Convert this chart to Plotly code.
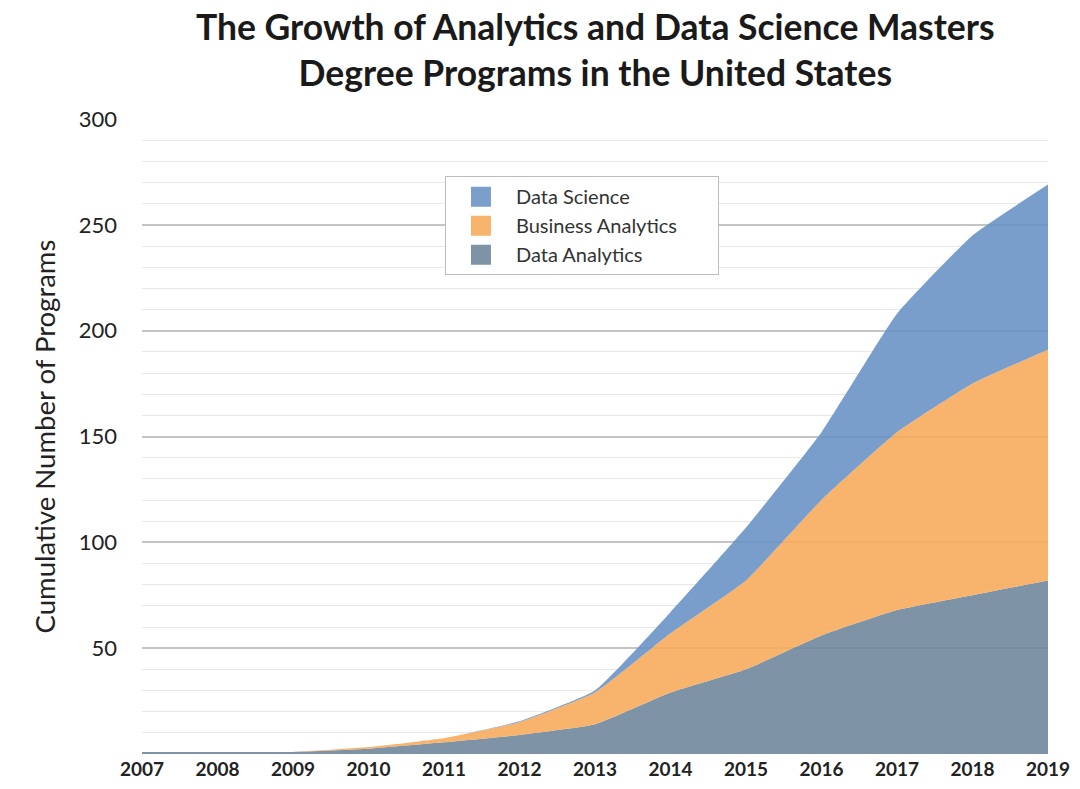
import plotly.graph_objects as go

years = [2007, 2008, 2009, 2010, 2011, 2012, 2013, 2014, 2015, 2016, 2017, 2018, 2019]
data_analytics = [1, 1, 1, 2.5, 5.5, 9, 14, 29, 40, 56, 68, 75, 82]
business_analytics = [0, 0, 0, 0.8, 2, 6, 15, 28, 42, 64, 84, 100, 109]
data_science = [0, 0, 0, 0, 0, 0.5, 1, 10, 25, 32, 56, 70, 78]

y_tickvals = [50, 100, 150, 200, 250, 300]

FONT = "Lato"
PAD = "\u00a0" * 7
TITLE = "<b>The Growth of Analytics and Data Science Masters<br>Degree Programs in the United States</b>"

fig = go.Figure()
series = [
    ("Data Analytics", data_analytics, "rgba(113,135,156,0.9)", "#7f93a6"),
    ("Business Analytics", business_analytics, "rgba(247,172,92,0.9)", "#f8b46c"),
    ("Data Science", data_science, "rgba(108,147,197,0.9)", "#7b9ecb"),
]
for name, vals, col, solid in series:
    fig.add_trace(go.Scatter(
        x=years, y=vals, name=name, mode="lines", stackgroup="one",
        line=dict(width=0, shape="spline", smoothing=0.4),
        fillcolor=col, showlegend=False,
    ))
# legend-only entries with square swatches
for name, vals, col, solid in series:
    fig.add_trace(go.Scatter(
        x=[None], y=[None], name=name + PAD, mode="markers",
        marker=dict(symbol="square", size=16, color=solid,
                    line=dict(color=solid, width=4)),
        showlegend=True,
    ))

fig.add_annotation(
    text=TITLE, xref="paper", yref="paper", x=0.5, y=1.1087,
    xanchor="center", yanchor="middle", showarrow=False,
    font=dict(family=FONT, size=35.5, color="#1a1a1a"),
)

fig.update_layout(
    width=1064, height=773,
    margin=dict(l=134, r=24, t=111, b=27, autoexpand=False),
    paper_bgcolor="white", plot_bgcolor="white",
    legend=dict(
        x=0.3344, y=0.91, xanchor="left", yanchor="top",
        traceorder="reversed",
        bgcolor="white", bordercolor="#bdbdbd", borderwidth=1,
        font=dict(family=FONT, size=20, color="#333333"),
        itemsizing="trace", tracegroupgap=0, itemwidth=60,
    ),
    showlegend=True,
)

fig.update_xaxes(
    range=[2007, 2019], tickmode="array", tickvals=years,
    ticktext=[f"<b>{y}</b>" for y in years],
    tickfont=dict(family=FONT, size=19, color="#222222"),
    showgrid=False, zeroline=False, showline=False, ticks="",
    ticklabelstandoff=2, automargin=False,
)
fig.update_yaxes(
    range=[0, 300], tickmode="array", tickvals=y_tickvals,
    tickfont=dict(family=FONT, size=22, color="#222222"),
    showgrid=True, gridcolor="#c4c4c4", gridwidth=1.5,
    minor=dict(dtick=10, showgrid=True, gridcolor="#e8e8e8", gridwidth=1),
    zeroline=False, showline=False, ticks="",
    ticklabelstandoff=24, automargin=False,
    title=dict(text="Cumulative Number of Programs",
               font=dict(family=FONT, size=27.5, color="#222222"), standoff=15),
)

fig.write_html("out.html")
